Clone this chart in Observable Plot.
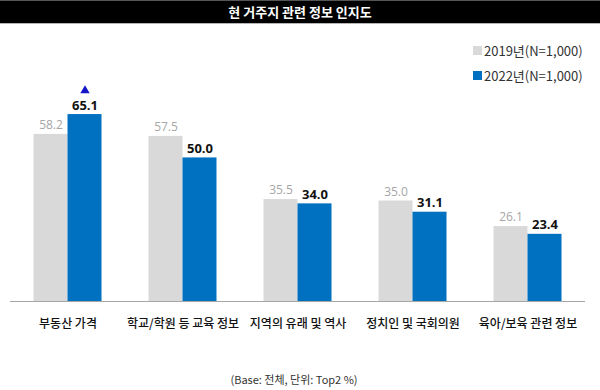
<!DOCTYPE html>
<html><head><meta charset="utf-8">
<script src="https://cdn.jsdelivr.net/npm/d3@7"></script>
<script src="https://cdn.jsdelivr.net/npm/@observablehq/plot@0.6"></script>
<style>
body{margin:0;background:#fff;}
#wrap{position:relative;width:600px;height:390px;font-family:"Noto Sans CJK KR",sans-serif;overflow:hidden;}
#title{height:22px;background:#000;border-top:1px solid #555;border-bottom:1px solid #b4b4b4;color:#fff;font-weight:bold;font-size:13px;text-align:center;line-height:22px;}
#legend{position:absolute;left:473px;top:38px;font-size:13px;color:#333;}
#legend div{height:25px;line-height:20px;display:flex;align-items:center;}
#legend span.sw{display:inline-block;width:9px;height:9px;margin-right:2px;}
#caption{height:21px;line-height:21px;text-align:center;font-size:11px;color:#333;padding-right:12px;}
#chart svg{display:block;}
</style></head>
<body>
<div id="wrap">
  <div id="title"></div>
  <div id="legend"></div>
  <div id="chart"></div>
  <div id="caption"></div>
</div>
<script>
const titleText = "현 거주지 관련 정보 인지도";
const captionText = "(Base: 전체, 단위: Top2 %)";
const categories = ["부동산 가격", "학교/학원 등 교육 정보", "지역의 유래 및 역사", "정치인 및 국회의원", "육아/보육 관련 정보"];
const years = ["2019", "2022"];
const seriesLabels = ["2019년(N=1,000)", "2022년(N=1,000)"];
const colors = ["#d9d9d9", "#0070c0"];
const v2019 = [58.2, 57.5, 35.5, 35.0, 26.1];
const v2022 = [65.1, 50.0, 34.0, 31.1, 23.4];
const risingCats = ["부동산 가격"];

const data = [];
categories.forEach((c, i) => {
  data.push({cat: c, year: "2019", value: v2019[i]});
  data.push({cat: c, year: "2022", value: v2022[i]});
});
const rising = data.filter(d => d.year === "2022" && risingCats.includes(d.cat));

document.getElementById("title").textContent = titleText;
document.getElementById("caption").textContent = captionText;
const lg = document.getElementById("legend");
seriesLabels.forEach((s, i) => {
  const row = document.createElement("div");
  const sw = document.createElement("span");
  sw.className = "sw"; sw.style.background = colors[i];
  row.appendChild(sw);
  row.appendChild(document.createTextNode(s));
  lg.appendChild(row);
});

const numFont = "'Open Sans', sans-serif";
const chart = Plot.plot({
  width: 600,
  height: 345,
  marginTop: 76,
  marginBottom: 68,
  marginLeft: 9.5,
  marginRight: 15.5,
  style: {fontFamily: "'Noto Sans CJK KR', sans-serif", background: "#fff"},
  fx: {domain: categories, padding: 0, label: null},
  x: {domain: years, paddingInner: 0, paddingOuter: 0.69, axis: null},
  y: {domain: [0, 70], axis: null},
  color: {domain: years, range: colors},
  marks: [
    Plot.barY(data, {fx: "cat", x: "year", y: "value", fill: "year"}),
    Plot.ruleY([0], {stroke: "#a6a6a6", strokeWidth: 1}),
    Plot.text(data.filter(d => d.year === "2019"), {fx: "cat", x: "year", y: "value", text: d => d.value.toFixed(1), dy: -9, fill: "#a6a6a6", fontSize: 12, fontFamily: numFont}),
    Plot.text(data.filter(d => d.year === "2022"), {fx: "cat", x: "year", y: "value", text: d => d.value.toFixed(1), dy: -9, fill: "#111", fontSize: 13, fontWeight: "bold", fontFamily: numFont}),
    Plot.dot(rising, {fx: "cat", x: "year", y: "value", symbol: "triangle", r: 3.5, fill: "#1414c8", dy: -24}),
    Plot.axisFx({anchor: "bottom", tickSize: 0, tickPadding: 18, label: null, fontSize: 12, fontWeight: 500, fill: "#111"})
  ]
});
document.getElementById("chart").appendChild(chart);
</script>
</body></html>
